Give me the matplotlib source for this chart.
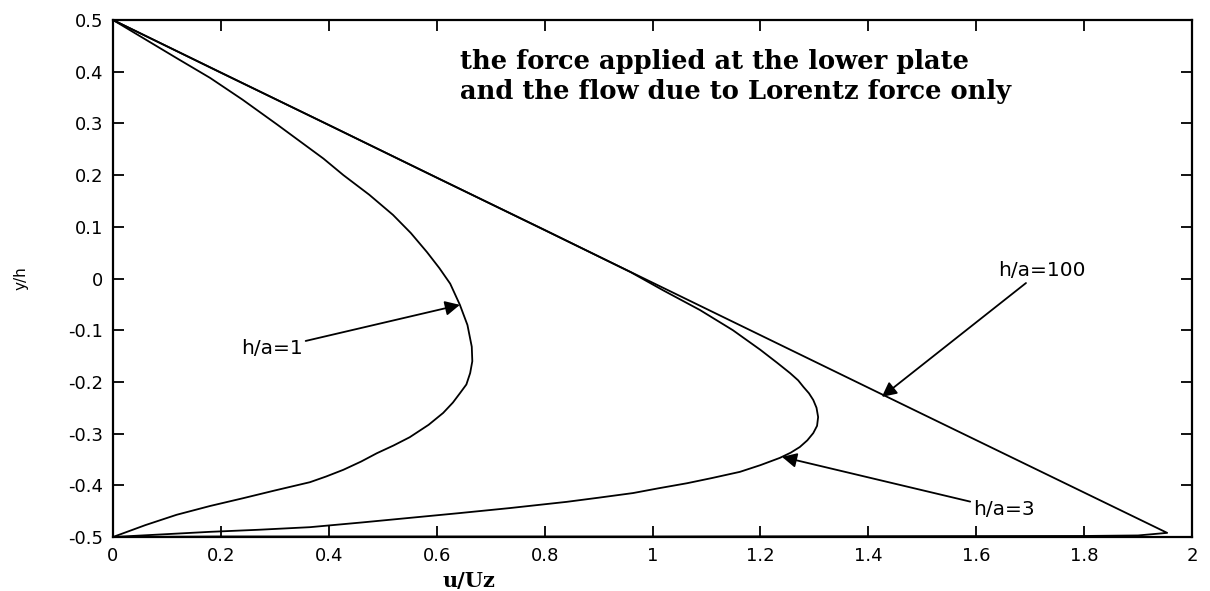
import matplotlib.pyplot as plt

# h/a = 100 : almost linear profile, thin return flow near the lower plate
u_100 = [0.0, 0.5, 1.0, 1.5, 1.954, 1.9, 1.8, 1.0, 0.2, 0.0]
y_100 = [0.5, 0.246, -0.008, -0.262, -0.492, -0.497, -0.498, -0.499, -0.499, -0.5]

# h/a = 3
u_3 = [0.0, 0.2, 0.4, 0.6, 0.8, 0.96, 1.02, 1.088, 1.149, 1.2, 1.231, 1.255, 1.27, 1.28, 1.29,
       1.298, 1.304, 1.307, 1.305, 1.298, 1.287, 1.273, 1.256, 1.236, 1.2, 1.162, 1.11, 1.064,
       1.01, 0.964, 0.9, 0.841, 0.736, 0.64, 0.55, 0.46, 0.365, 0.27, 0.18, 0.09, 0.0]
y_3 = [0.5, 0.398, 0.297, 0.195, 0.094, 0.012, -0.023, -0.061, -0.1, -0.138, -0.163, -0.183,
       -0.197, -0.21, -0.222, -0.235, -0.25, -0.268, -0.285, -0.299, -0.313, -0.326, -0.337,
       -0.347, -0.361, -0.374, -0.386, -0.396, -0.406, -0.415, -0.424, -0.432, -0.444, -0.454,
       -0.463, -0.472, -0.481, -0.486, -0.49, -0.495, -0.5]

# h/a = 1
u_1 = [0.0, 0.056, 0.12, 0.18, 0.24, 0.304, 0.347, 0.39, 0.427, 0.475, 0.519, 0.552, 0.582,
       0.605, 0.625, 0.643, 0.657, 0.665, 0.666, 0.662, 0.655, 0.643, 0.63, 0.612, 0.585, 0.55,
       0.52, 0.489, 0.46, 0.427, 0.395, 0.365, 0.30, 0.241, 0.18, 0.118, 0.06, 0.0]
y_1 = [0.5, 0.465, 0.425, 0.388, 0.346, 0.298, 0.265, 0.232, 0.2, 0.162, 0.123, 0.088, 0.051,
       0.02, -0.01, -0.051, -0.09, -0.132, -0.16, -0.183, -0.205, -0.222, -0.24, -0.26, -0.283,
       -0.307, -0.323, -0.338, -0.354, -0.37, -0.383, -0.394, -0.41, -0.425, -0.44, -0.457,
       -0.477, -0.5]

xticks = [0, 0.2, 0.4, 0.6, 0.8, 1, 1.2, 1.4, 1.6, 1.8, 2]
xticklabels = ['0', '0.2', '0.4', '0.6', '0.8', '1', '1.2', '1.4', '1.6', '1.8', '2']
yticks = [-0.5, -0.4, -0.3, -0.2, -0.1, 0, 0.1, 0.2, 0.3, 0.4, 0.5]
yticklabels = ['-0.5', '-0.4', '-0.3', '-0.2', '-0.1', '0', '0.1', '0.2', '0.3', '0.4', '0.5']

fig = plt.figure(figsize=(12.1, 5.91), dpi=100)
ax = fig.add_axes([113 / 1210, 1 - 537 / 591, (1192 - 113) / 1210, (537 - 20) / 591])

ax.plot(u_100, y_100, color='k', lw=1.3)
ax.plot(u_3, y_3, color='k', lw=1.3)
ax.plot(u_1, y_1, color='k', lw=1.3)

ax.set_xlim(0, 2)
ax.set_ylim(-0.5, 0.5)
ax.set_xticks(xticks)
ax.set_xticklabels(xticklabels)
ax.set_yticks(yticks)
ax.set_yticklabels(yticklabels)
ax.tick_params(direction='in', length=8, width=1.3, top=True, right=True,
               labelsize=13, pad=7)
for s in ax.spines.values():
    s.set_linewidth(1.6)

ax.set_xlabel('u/Uz', fontsize=15, fontweight='bold', family='DejaVu Serif')
ax.xaxis.set_label_coords(0.33, -0.065)
ax.set_ylabel('y/h', fontsize=11)
ax.yaxis.set_label_coords(-0.078, 0.5)

ax.text(0.643, 0.419, 'the force applied at the lower plate', fontsize=18.5,
        fontweight='bold', family='DejaVu Serif', va='center')
ax.text(0.643, 0.361, 'and the flow due to Lorentz force only', fontsize=18.5,
        fontweight='bold', family='DejaVu Serif', va='center')

arrow = dict(arrowstyle='-|>', color='k', lw=1.3, mutation_scale=22, shrinkA=0, shrinkB=0)
ax.annotate('h/a=1', xy=(0.643, -0.051), xytext=(0.352, -0.136), fontsize=14.5,
            ha='right', va='center', arrowprops=arrow)
ax.annotate('h/a=3', xy=(1.24, -0.345), xytext=(1.594, -0.447), fontsize=14.5,
            ha='left', va='center', arrowprops=arrow)
ax.annotate('h/a=100', xy=(1.425, -0.229), xytext=(1.64, 0.015), fontsize=14.5,
            ha='left', va='center', arrowprops=arrow)

fig.savefig('out.png', dpi=100)
